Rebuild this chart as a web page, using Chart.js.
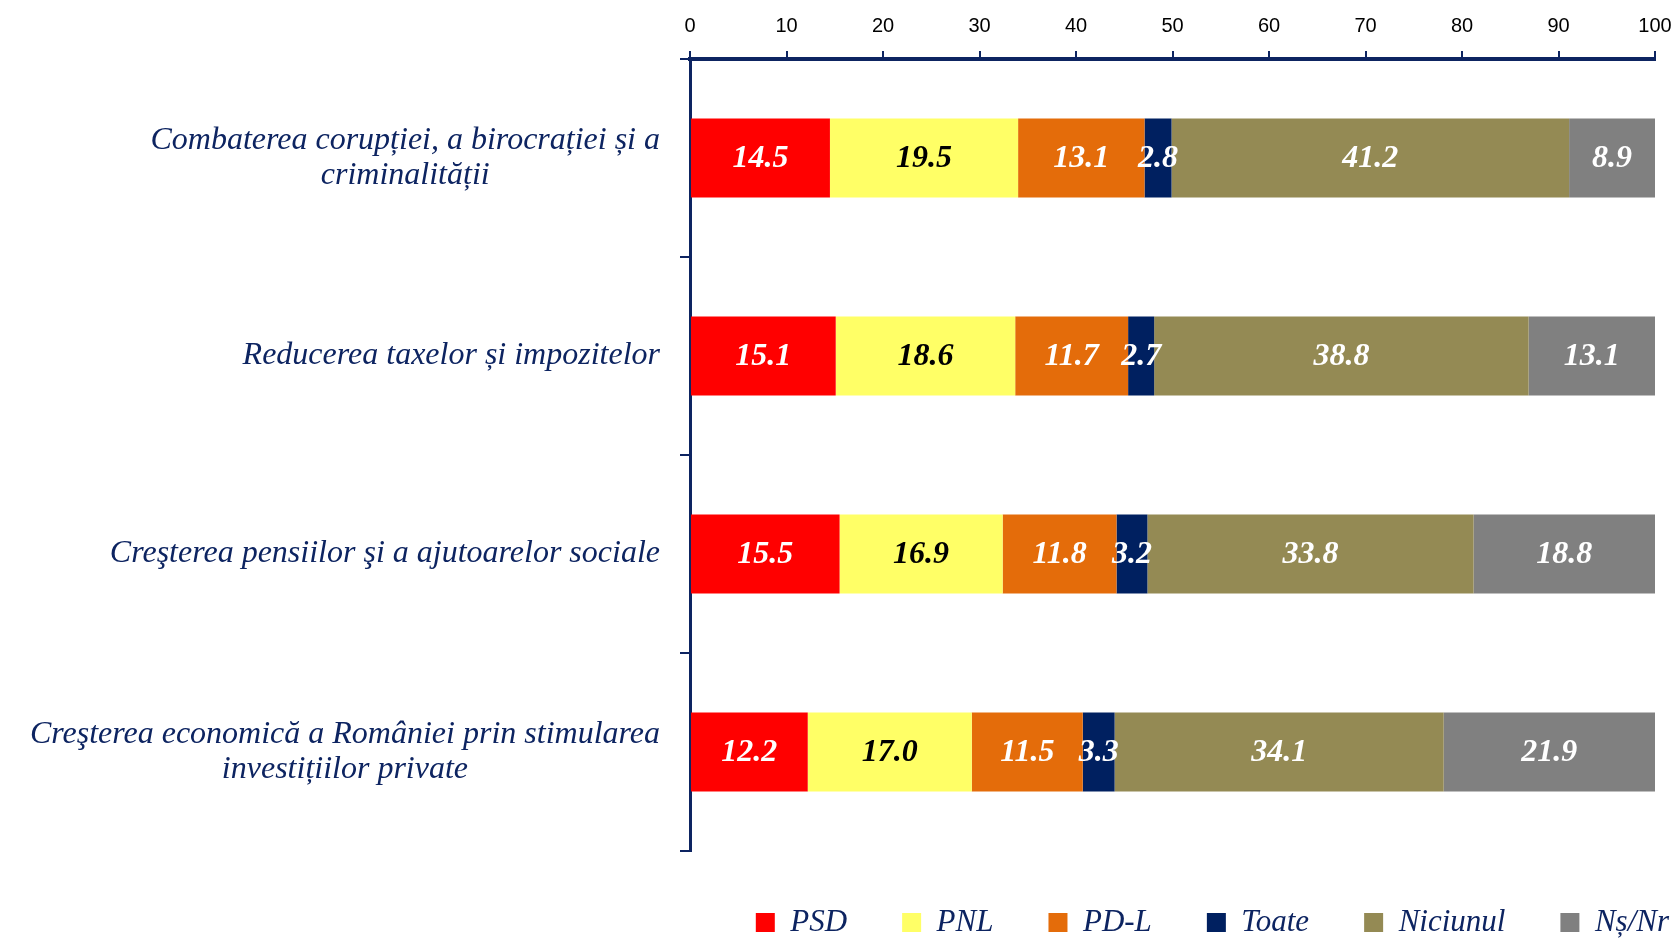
<!DOCTYPE html>
<html>
<head>
<meta charset="utf-8">
<script src="https://cdn.jsdelivr.net/npm/chart.js@4"></script>
<style>
  html, body { margin: 0; padding: 0; background: #fff; }
  #wrap { width: 1675px; height: 938px; }
</style>
</head>
<body>
<div id="wrap"><canvas id="canvasChart"></canvas></div>
<script>
const categories = [
    ['Combaterea corupției, a birocrației și a', 'criminalității'],
    ['Reducerea taxelor și impozitelor'],
    ['Creşterea pensiilor şi a ajutoarelor sociale'],
    ['Creşterea economică a României prin stimularea', 'investițiilor private']
];
const seriesNames = ['PSD', 'PNL', 'PD-L', 'Toate', 'Niciunul', 'Nș/Nr'];
const psd = [14.5, 15.1, 15.5, 12.2];
const pnl = [19.5, 18.6, 16.9, 17.0];
const pdl = [13.1, 11.7, 11.8, 11.5];
const toate = [2.8, 2.7, 3.2, 3.3];
const niciunul = [41.2, 38.8, 33.8, 34.1];
const nsnr = [8.9, 13.1, 18.8, 21.9];
const xTicks = [0, 10, 20, 30, 40, 50, 60, 70, 80, 90, 100];

const navy = '#0d2461';
const serif = '"Liberation Serif", "Times New Roman", serif';
const colors = ['#ff0000', '#ffff66', '#e46c0a', '#002060', '#948a54', '#808080'];
const labelColors = ['#fff', '#000', '#fff', '#fff', '#fff', '#fff'];
const allSeries = [psd, pnl, pdl, toate, niciunul, nsnr];

const barLabels = {
    id: 'barLabels',
    afterDatasetsDraw(chart) {
        const ctx = chart.ctx;
        ctx.save();
        ctx.font = 'italic bold 32px ' + serif;
        ctx.textAlign = 'center';
        ctx.textBaseline = 'middle';
        chart.data.datasets.forEach((ds, i) => {
            const meta = chart.getDatasetMeta(i);
            meta.data.forEach((bar, j) => {
                ctx.fillStyle = labelColors[i];
                ctx.fillText(ds.data[j].toFixed(1), (bar.x + bar.base) / 2, bar.y + 1);
            });
        });
        ctx.restore();
    }
};

// category labels: block right-aligned, lines centred inside the block
const categoryLabels = {
    id: 'categoryLabels',
    afterDraw(chart) {
        const ctx = chart.ctx;
        const yScale = chart.scales.y;
        ctx.save();
        ctx.font = 'italic 32px ' + serif;
        ctx.fillStyle = navy;
        ctx.textAlign = 'center';
        ctx.textBaseline = 'middle';
        categories.forEach((lines, i) => {
            const cy = yScale.getPixelForValue(i);
            const w = Math.max(...lines.map(l => ctx.measureText(l).width));
            const cx = yScale.right - 30 - w / 2;
            lines.forEach((l, k) => ctx.fillText(l, cx, cy + (k - (lines.length - 1) / 2) * 35));
        });
        ctx.restore();
    }
};

const legendShift = {
    id: 'legendShift',
    afterLayout(chart) {
        chart.legend.left += 58;
        chart.legend.right += 58;
        chart.legend.top += 1;
        chart.legend.bottom += 1;
    }
};

const chart = new Chart(document.getElementById('canvasChart'), {
    type: 'bar',
    data: {
        labels: categories.map(c => c.join(' ')),
        datasets: allSeries.map((data, i) => ({
            label: seriesNames[i],
            data: data,
            backgroundColor: colors[i],
            borderWidth: 0,
            categoryPercentage: 0.4,
            barPercentage: 1
        }))
    },
    options: {
        indexAxis: 'y',
        responsive: true,
        maintainAspectRatio: false,
        animation: false,
        devicePixelRatio: 1,
        layout: { padding: { top: 1, right: 9, left: 0, bottom: 0 } },
        scales: {
            x: {
                position: 'top',
                stacked: true,
                min: 0,
                max: 100,
                afterBuildTicks(scale) { scale.ticks = xTicks.map(v => ({ value: v })); },
                afterFit(scale) { scale.paddingRight = 20; },
                ticks: { color: '#000', padding: 19, font: { family: '"Liberation Sans", Arial, sans-serif', size: 20, lineHeight: 0.6 } },
                grid: { drawOnChartArea: false, drawTicks: true, tickLength: 8, color: navy, lineWidth: 2 },
                border: { color: navy, width: 4 }
            },
            y: {
                stacked: true,
                ticks: { display: false },
                grid: { drawOnChartArea: false, drawTicks: true, tickLength: 10, color: navy, lineWidth: 2, offset: true },
                border: { color: navy, width: 3 },
                afterFit(scale) { scale.width = 690; }
            }
        },
        plugins: {
            tooltip: { enabled: false },
            legend: {
                position: 'bottom',
                align: 'end',
                maxHeight: 87,
                labels: {
                    boxWidth: 19,
                    boxHeight: 19,
                    padding: 55,
                    color: navy,
                    font: { family: serif, size: 31, style: 'italic' }
                }
            }
        }
    },
    plugins: [barLabels, categoryLabels, legendShift]
});
</script>
</body>
</html>
